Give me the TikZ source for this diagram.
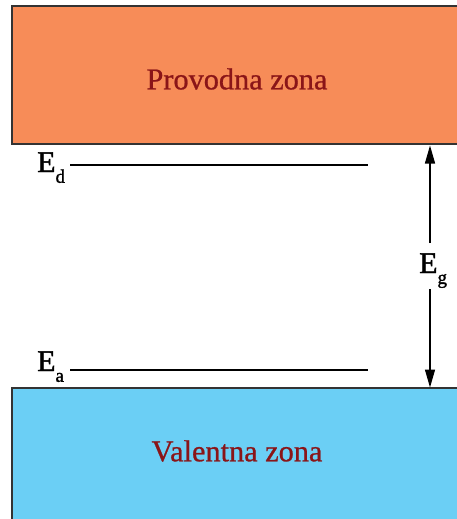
\documentclass[tikz,border=0pt]{standalone}
\usepackage{fontspec}
\setmainfont{Liberation Serif}
\newfontfamily\zonefont[FakeBold=0.8]{Liberation Serif}
\newfontfamily\lblfont[FakeBold=1.6]{Liberation Serif}
\usetikzlibrary{arrows.meta}
\definecolor{condorange}{HTML}{F78C58}
\definecolor{valblue}{HTML}{6BCFF5}
\definecolor{zonered}{HTML}{8A1518}
\newcommand{\lvlsub}[1]{\raisebox{-0.36em}{\fontsize{19}{19}\selectfont #1}}
\begin{document}
\begin{tikzpicture}[x=1pt,y=-1pt]
\tikzset{
  band/.style={draw=black!80, line width=1.4pt},
  zonetext/.style={text=zonered, font=\zonefont\fontsize{30.3}{32}\selectfont, inner sep=0pt},
  level/.style={line width=1.5pt},
  lbl/.style={font=\lblfont\fontsize{30}{32}\selectfont, inner sep=0pt},
  gaparrow/.style={line width=1.4pt, -{Triangle[length=18pt,width=10pt]}}
}
\useasboundingbox (0,0) rectangle (456,519);
% bands
\path[band, fill=condorange] (460,6) -| (12,144) -- (460,144);
\path[band, fill=valblue] (460,388) -| (12,522);
\fill[valblue] (12.7,388.7) rectangle (460,522);
% band labels
\node[zonetext] (cb) at (237,79) {Provodna zona};
\node[zonetext] (vb) at (237,451) {Valentna zona};
% donor level
\node[lbl, anchor=base west] (ed) at (37,172) {E\lvlsub{d}};
\coordinate (d1) at (70,165);
\coordinate (d2) at (368,165);
\draw[level] (d1) -- (d2);
% acceptor level
\node[lbl, anchor=base west] (ea) at (37,371) {E\lvlsub{a}};
\coordinate (a1) at (70,370);
\coordinate (a2) at (368,370);
\draw[level] (a1) -- (a2);
% gap arrow
\node[lbl, anchor=base west] (eg) at (419,273) {E\lvlsub{g}};
\coordinate (gt) at (430,145.5);
\coordinate (gb) at (430,387.5);
\coordinate (gu) at (430,243);
\coordinate (gl) at (430,289);
\draw[gaparrow] (gu) -- (gt);
\draw[gaparrow] (gl) -- (gb);
\end{tikzpicture}
\end{document}
